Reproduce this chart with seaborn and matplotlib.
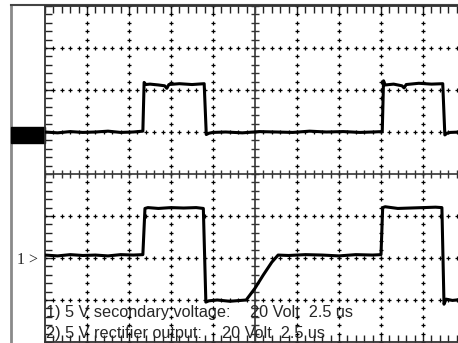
import numpy as np
import pandas as pd
import matplotlib
matplotlib.use("Agg")
import matplotlib.pyplot as plt
import seaborn as sns
from matplotlib.patches import Rectangle

# trace 1: secondary voltage (x, y in scope divisions)
sec_t = [0, 0.3, 0.6, 0.9, 1.2, 1.5, 1.8, 2.1, 2.33, 2.36, 2.4, 2.5, 2.7, 2.85, 2.9, 2.95,
         3.2, 3.5, 3.79, 3.84, 3.9, 4.0, 4.3, 4.7, 5.1, 5.5, 5.9, 6.3, 6.7, 7.1, 7.5, 7.8,
         8.03, 8.06, 8.1, 8.3, 8.5, 8.55, 8.6, 8.9, 9.2, 9.47, 9.52, 9.57, 9.65, 9.9]
sec_v = [1.0, 0.98, 1.01, 0.99, 1.0, 1.02, 0.99, 1.0, 1.02, 2.18, 2.13, 2.14, 2.12, 2.1, 2.04, 2.13,
         2.15, 2.13, 2.15, 0.94, 0.97, 0.99, 1.0, 0.98, 1.01, 1.0, 0.99, 1.02, 1.0, 1.01, 0.99, 1.0,
         1.01, 2.22, 2.12, 2.14, 2.1, 2.05, 2.13, 2.16, 2.14, 2.15, 0.93, 0.97, 0.99, 1.0]

# trace 2: rectifier output
rect_t = [0, 0.3, 0.6, 0.9, 1.2, 1.5, 1.8, 2.1, 2.33, 2.38, 2.45, 2.7, 3.0, 3.3, 3.6, 3.77,
          3.83, 3.9, 4.1, 4.4, 4.79, 5.0, 5.2, 5.4, 5.55, 5.8, 6.2, 6.6, 7.0, 7.4, 7.8, 8.0,
          8.04, 8.1, 8.4, 8.7, 9.0, 9.3, 9.45, 9.5, 9.55, 9.7, 9.9]
rect_v = [-1.93, -1.95, -1.92, -1.94, -1.93, -1.95, -1.92, -1.93, -1.92, -0.82, -0.8, -0.82, -0.8, -0.81, -0.8, -0.82,
          -3.05, -3.02, -3.0, -3.03, -3.0, -2.72, -2.4, -2.1, -1.93, -1.94, -1.92, -1.93, -1.95, -1.92, -1.93, -1.92,
          -0.8, -0.78, -0.82, -0.81, -0.8, -0.79, -0.8, -3.1, -2.98, -3.01, -2.99]

label_1 = ["1) 5 V secondary voltage:", "20 Volt  2.5 us"]
label_2 = ["2) 5 V rectifier output:", "20 Volt  2.5 us"]

sns.set_style("white")
plt.rcParams["font.family"] = ["Liberation Sans", "DejaVu Sans"]

W, H = 458, 343
fig = plt.figure(figsize=(W / 100, H / 100), dpi=100)

# outer frame (gray left rule + top rule)
bg = fig.add_axes([11 / W, 0, 1 - 11 / W, 1 - 5 / H])
bg.set_xticks([])
bg.set_yticks([])
for s in ["right", "bottom"]:
    bg.spines[s].set_visible(False)
bg.spines["left"].set_color("#8a8a8a")
bg.spines["left"].set_linewidth(2)
bg.spines["top"].set_color("#444444")
bg.spines["top"].set_linewidth(1.5)
bg.patch.set_alpha(0)

ax = fig.add_axes([45 / W, 1 / H, 420 / W, 336 / H])
ax.set_xlim(0, 10)
ax.set_ylim(-4, 4)
ax.patch.set_alpha(0)
for s in ["left", "top", "bottom"]:
    ax.spines[s].set_color("#333333")
    ax.spines[s].set_linewidth(1.3)

minor_x = np.arange(0, 10.01, 0.2)
minor_y = np.arange(-4, 4.01, 0.2)
ax.set_xticks(np.arange(0, 11, 1))
ax.set_yticks(np.arange(-4, 5, 1))
ax.set_xticks(minor_x, minor=True)
ax.set_yticks(minor_y, minor=True)
ax.tick_params(which="both", direction="in", top=True, bottom=True, left=True, right=False,
               length=5, width=1, color="#222222",
               labelleft=False, labelbottom=False)

# dotted graticule
for gx in [1, 2, 3, 4, 6, 7, 8, 9]:
    ax.plot([gx] * len(minor_y), minor_y, "+", ms=2.6, mew=0.9, color="black", zorder=1)
for gy in [-3, -2, -1, 1, 2, 3]:
    ax.plot(minor_x, [gy] * len(minor_x), "+", ms=2.6, mew=0.9, color="black", zorder=1)

# centre cross with ticks
ax.axhline(0, color="#444444", lw=1.3, zorder=1)
ax.axvline(5, color="#444444", lw=1.3, zorder=1)
ax.plot(minor_x, np.zeros(len(minor_x)), "|", ms=6, mew=1, color="#333333", zorder=1)
ax.plot(np.full(len(minor_y), 5.0), minor_y, "_", ms=6, mew=1, color="#333333", zorder=1)

df1 = pd.DataFrame({"t": sec_t, "v": sec_v})
df2 = pd.DataFrame({"t": rect_t, "v": rect_v})
sns.lineplot(data=df1, x="t", y="v", sort=False, estimator=None, color="black", lw=2.2, ax=ax, zorder=3)
sns.lineplot(data=df2, x="t", y="v", sort=False, estimator=None, color="black", lw=2.2, ax=ax, zorder=3)
ax.set_xlabel("")
ax.set_ylabel("")
ax.set_xlim(0, 10)
ax.set_ylim(-4, 4)

# channel markers
ax.add_patch(Rectangle((-34 / 42, 0.74), 34 / 42, 0.38, color="black", clip_on=False))
ax.text(-0.17, -2.05, "1 >", ha="right", va="center", fontsize=11.5,
        family=["Liberation Serif", "DejaVu Serif"], clip_on=False)

fs = 11.7
fig.text(46 / W, 26 / H, label_1[0], fontsize=fs, va="baseline")
fig.text(250 / W, 26 / H, label_1[1], fontsize=fs, va="baseline")
fig.text(46 / W, 5 / H, label_2[0], fontsize=fs, va="baseline")
fig.text(222 / W, 5 / H, label_2[1], fontsize=fs, va="baseline")

fig.savefig("out.png", dpi=100)
